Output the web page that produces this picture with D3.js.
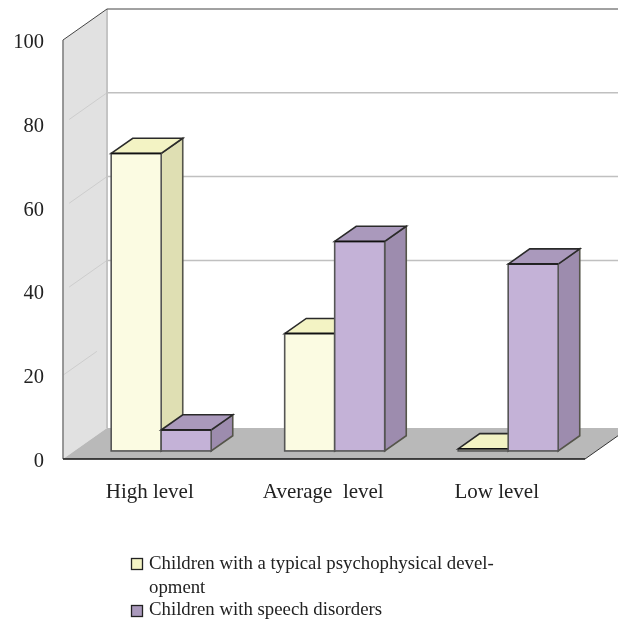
<!DOCTYPE html>
<html>
<head>
<meta charset="utf-8">
<script src="https://cdn.jsdelivr.net/npm/d3@7"></script>
<style>
  html, body { margin: 0; padding: 0; background: #fff; }
  svg { display: block; filter: blur(0.4px); }
  text { font-family: "Liberation Serif", serif; fill: #222; white-space: pre; }
</style>
</head>
<body>
<div id="chart"></div>
<script>
const categories = ["High level", "Average  level", "Low level"];
const seriesNames = ["typical", "speech"];
const typicalValues = [71, 28, 0.5];
const speechValues = [5, 50, 44.6];
const yTicks = [0, 20, 40, 60, 80, 100];
const backGridTicks = [40, 60, 80]; // the 20 line is not drawn on the back wall in the original
const wallGridTicks = [20, 40, 60, 80];
const legendLines = [
  "Children with a typical psychophysical devel-",
  "opment",
  "Children with speech disorders"
];

const width = 618, height = 620;
const left = 63, right = 585, y0 = 459, y100 = 40;
const depthX = 44, depthY = 31;

// face colours: front, top, side
const typicalFill = ["#fbfbe2", "#f3f3c4", "#dfdfb3"];
const speechFill = ["#c4b2d7", "#aa99bc", "#9d8cae"];

const svg = d3.select("#chart").append("svg")
  .attr("width", width)
  .attr("height", height);

const x = d3.scaleBand().domain(categories).range([left, left + 520.5]);
const xSeries = d3.scaleBand().domain(seriesNames).range([0, x.bandwidth()]).paddingOuter(0.735);
const y = d3.scaleLinear().domain([0, 100]).range([y0, y100]);

// project a point of the front plane back by a fraction of the chart depth
const px = (xv, d) => xv + d * depthX;
const py = (yv, d) => yv - d * depthY;
const poly = pts => pts.map(p => p.join(",")).join(" ");

// left wall
svg.append("polygon")
  .attr("points", poly([[left, y(100)], [px(left, 1), py(y(100), 1)], [px(left, 1), py(y(0), 1)], [left, y(0)]]))
  .attr("fill", "#e1e1e1");

// gridlines
svg.selectAll(".grid").data(backGridTicks).join("line")
  .attr("x1", px(left, 1)).attr("x2", width)
  .attr("y1", d => py(y(d), 1)).attr("y2", d => py(y(d), 1))
  .attr("stroke", "#c0c0c0").attr("stroke-width", 1.5);

// the faint lines on the wall fade out at different lengths
svg.selectAll(".wallgrid").data(wallGridTicks).join("line")
  .attr("x1", d => px(left, d === 20 ? 0.77 : 1)).attr("x2", d => px(left, d === 20 ? 0 : 0.14))
  .attr("y1", d => py(y(d), d === 20 ? 0.77 : 1)).attr("y2", d => py(y(d), d === 20 ? 0 : 0.14))
  .attr("stroke", "#cdcdcd").attr("stroke-width", 1);

// wall edges
svg.append("line")
  .attr("x1", px(left, 1)).attr("x2", px(left, 1))
  .attr("y1", py(y(100), 1)).attr("y2", py(y(0), 1))
  .attr("stroke", "#c4c4c4").attr("stroke-width", 2);
svg.append("line")
  .attr("x1", px(left, 1)).attr("x2", width)
  .attr("y1", py(y(100), 1)).attr("y2", py(y(100), 1))
  .attr("stroke", "#444").attr("stroke-width", 1);
svg.append("line")
  .attr("x1", left).attr("x2", px(left, 1))
  .attr("y1", y(100)).attr("y2", py(y(100), 1))
  .attr("stroke", "#444").attr("stroke-width", 1);
svg.append("line")
  .attr("x1", left).attr("x2", left)
  .attr("y1", y(100)).attr("y2", y(0))
  .attr("stroke", "#808080").attr("stroke-width", 1.6);

// floor
svg.append("polygon")
  .attr("points", poly([[left, y(0)], [right, y(0)], [px(right, 1), py(y(0), 1)], [px(left, 1), py(y(0), 1)]]))
  .attr("fill", "#b9b9b9");
svg.append("line")
  .attr("x1", right).attr("x2", px(right, 1))
  .attr("y1", y(0)).attr("y2", py(y(0), 1))
  .attr("stroke", "#333").attr("stroke-width", 1);
svg.append("line")
  .attr("x1", left).attr("x2", right)
  .attr("y1", y(0)).attr("y2", y(0))
  .attr("stroke", "#111").attr("stroke-width", 1.6);

// bars sit between these two depths
const barFront = 0.26, barBack = 0.75;

function drawBar(g, xLeft, value, fills) {
  const w = xSeries.bandwidth();
  const xa = px(xLeft, barFront), xb = xa + w;
  const base = py(y(0), barFront), top = py(y(value), barFront);
  const dx = (barBack - barFront) * depthX, dy = (barBack - barFront) * depthY;

  g.append("polygon")
    .attr("points", poly([[xb, top], [xb + dx, top - dy], [xb + dx, base - dy], [xb, base]]))
    .attr("fill", fills[2]).attr("stroke", "#55554a").attr("stroke-width", 1.6);
  g.append("polygon")
    .attr("points", poly([[xa, top], [xa + dx, top - dy], [xb + dx, top - dy], [xb, top]]))
    .attr("fill", fills[1]).attr("stroke", "#2a2a2a").attr("stroke-width", 1.6);
  g.append("rect")
    .attr("x", xa).attr("y", top).attr("width", w).attr("height", base - top)
    .attr("fill", fills[0]).attr("stroke", "#555").attr("stroke-width", 1.6);
  g.append("line")
    .attr("x1", xa).attr("x2", xb).attr("y1", top).attr("y2", top)
    .attr("stroke", "#111").attr("stroke-width", 1.5);
}

categories.forEach((c, i) => {
  const g = svg.append("g");
  drawBar(g, x(c) + xSeries("typical"), typicalValues[i], typicalFill);
  drawBar(g, x(c) + xSeries("speech"), speechValues[i], speechFill);
});

// axes, only the labels show
const yAxis = d3.axisLeft(y).tickValues(yTicks).tickSize(0).tickPadding(19);
svg.append("g").attr("transform", `translate(${left},1)`).call(yAxis)
  .call(g => g.select(".domain").remove())
  .selectAll("text").style("font-size", "20.5px").style("font-family", '"Liberation Serif", serif').style("fill", "#222");

const xAxis = d3.axisBottom(x).tickSize(0).tickPadding(24);
svg.append("g").attr("transform", `translate(0,${y0})`).call(xAxis)
  .call(g => g.select(".domain").remove())
  .selectAll("text").style("font-size", "21px").style("font-family", '"Liberation Serif", serif').style("fill", "#222");

// legend
const legendY = [569, 593, 615];
svg.selectAll(".legend-text").data(legendLines).join("text")
  .attr("class", "legend-text")
  .attr("x", 149)
  .attr("y", (d, i) => legendY[i])
  .attr("font-size", 18.8)
  .text(d => d);

svg.append("rect").attr("x", 131.5).attr("y", 558.5).attr("width", 11).attr("height", 11)
  .attr("fill", typicalFill[1]).attr("stroke", "#222").attr("stroke-width", 1.3);
svg.append("rect").attr("x", 131.5).attr("y", 605.5).attr("width", 11).attr("height", 11)
  .attr("fill", speechFill[1]).attr("stroke", "#222").attr("stroke-width", 1.3);
</script>
</body>
</html>
